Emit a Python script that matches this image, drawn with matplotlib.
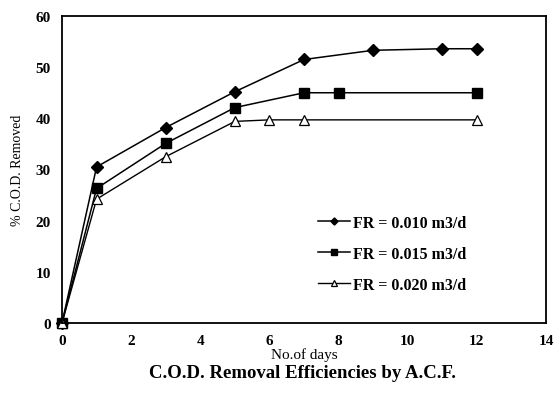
import matplotlib
matplotlib.use("Agg")
import matplotlib.pyplot as plt

days1 = [0, 1, 3, 5, 7, 9, 11, 12]
cod1 = [0, 30.5, 38.2, 45.2, 51.5, 53.3, 53.6, 53.6]
days2 = [0, 1, 3, 5, 7, 8, 12]
cod2 = [0, 26.3, 35.1, 42.1, 45.0, 45.0, 45.0]
days3 = [0, 1, 3, 5, 6, 7, 12]
cod3 = [0, 24.2, 32.5, 39.4, 39.7, 39.7, 39.7]
labels = ["FR = 0.010 m3/d", "FR = 0.015 m3/d", "FR = 0.020 m3/d"]
xticks = [0, 2, 4, 6, 8, 10, 12, 14]
yticks = [0, 10, 20, 30, 40, 50, 60]

plt.rcParams['font.family'] = ['Liberation Serif', 'DejaVu Serif']

fig = plt.figure(figsize=(5.55, 4.10), dpi=100)
ax = fig.add_axes([62/555, 1 - 324/410, (546-62)/555, (324-17)/410])

ax.plot(days1, cod1, color='black', lw=1.1, marker='D', ms=6, mfc='black', label=labels[0], clip_on=False)
ax.plot(days2, cod2, color='black', lw=1.1, marker='s', ms=7, mfc='black', label=labels[1], clip_on=False)
ax.plot(days3, cod3, color='black', lw=1.0, marker='^', ms=7, mfc='white', mew=0.9, label=labels[2], clip_on=False)

ax.set_xlim(0, 14)
ax.set_ylim(0, 60)
ax.set_xticks(xticks)
ax.set_yticks(yticks)
ax.tick_params(length=0, labelsize=11, pad=8)
for lab in ax.get_xticklabels() + ax.get_yticklabels():
    lab.set_fontweight('bold')
for s in ax.spines.values():
    s.set_linewidth(1.3)

ax.set_xlabel("No.of days", fontsize=11, labelpad=0)
ax.set_ylabel("% C.O.D. Removed", fontsize=10, labelpad=8)
fig.text(0.545, 1 - 374/410, "C.O.D. Removal Efficiencies by A.C.F.", ha='center', va='center',
         fontsize=13.5, fontweight='bold')

leg = ax.legend(loc='upper left', bbox_to_anchor=(0.5, 0.40), frameon=False,
                prop={'size': 11.5, 'weight': 'bold'},
                handlelength=2.0, markerscale=0.6, labelspacing=0.95, handletextpad=0.15)

fig.savefig("out.png", dpi=100)
